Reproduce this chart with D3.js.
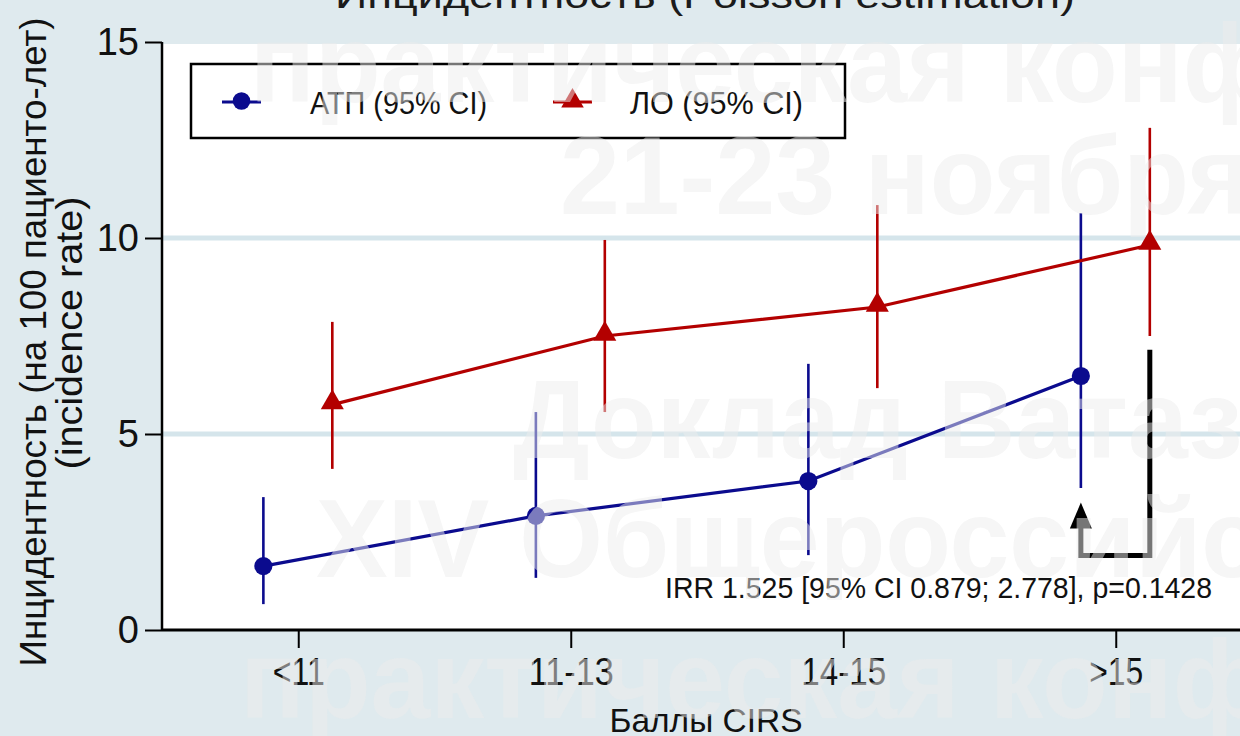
<!DOCTYPE html>
<html>
<head>
<meta charset="utf-8">
<script src="https://cdn.jsdelivr.net/npm/d3@7"></script>
<style>
  html, body { margin: 0; padding: 0; background: #dfeaee; }
  svg { display: block; font-family: "Liberation Sans", Arial, sans-serif; }
</style>
</head>
<body>
<svg id="chart" width="1240" height="736"></svg>
<script>
// CIRS score groups
const categories = ["<11", "11-13", "14-15", ">15"];

// Incidence per 100 patient-years, Poisson estimate with 95% CI
const atpRate  = [1.63, 2.91, 3.80, 6.48];
const atpLower = [0.66, 1.33, 1.91, 3.62];
const atpUpper = [3.39, 5.56, 6.79, 10.64];

const loRate  = [5.75, 7.50, 8.24, 9.82];
const loLower = [4.11, 5.56, 6.17, 7.50];
const loUpper = [7.86, 9.95, 10.84, 12.81];

const yTicks = [0, 5, 10, 15];

const seriesNames = ["АТП (95% CI)", "ЛО (95% CI)"];
const irrLabel = "IRR 1.525 [95% CI 0.879; 2.778], p=0.1428";

// Comparison bracket on the last group: top, bottom and arrow tip (rate units)
const bracketLevels = [7.15, 1.9, 3.25];

const watermarkLines = [
  "практическая конференция",
  "21-23 ноября",
  "Доклад Ватазина",
  "XIV Общероссийская",
  "практическая конференция"
];

const W = 1240, H = 736;
const plotLeft = 162, plotBottom = 630, plotTop = 42;
const blue = "#0b0b8e", red = "#b30000";

const svg = d3.select("#chart");

const x = d3.scalePoint().domain(categories).range([plotLeft, 1252]).padding(0.5);
const step = x.step();
const y = d3.scaleLinear().domain([0, 15]).range([plotBottom, plotTop]);

// plot area
svg.append("rect").attr("x", plotLeft).attr("y", y(15) + 2)
  .attr("width", W - plotLeft).attr("height", plotBottom - y(15) - 2).attr("fill", "#ffffff");

// grid bands
svg.append("g").selectAll("line").data([5, 10]).join("line")
  .attr("x1", plotLeft).attr("x2", W).attr("y1", d => y(d)).attr("y2", d => y(d))
  .attr("stroke", "#d5e5eb").attr("stroke-width", 5);

// title
svg.append("text").attr("x", 705).attr("y", 8).attr("text-anchor", "middle")
  .attr("font-size", 36).attr("fill", "#1b1b1b")
  .attr("textLength", 740).attr("lengthAdjust", "spacingAndGlyphs")
  .text("Инцидентность (Poisson estimation)");

// axes
const yAxis = svg.append("g").attr("transform", `translate(${plotLeft},0)`)
  .call(d3.axisLeft(y).tickValues(yTicks).tickSize(17).tickPadding(6).tickFormat(d3.format("d")));
yAxis.select(".domain").attr("stroke", "#000").attr("stroke-width", 2.5)
  .attr("d", `M0,${y(15)}V${plotBottom}`);
yAxis.selectAll(".tick line").attr("stroke", "#000").attr("stroke-width", 2);
yAxis.selectAll(".tick text").attr("font-size", 38).attr("fill", "#111")
  .attr("font-family", "Liberation Sans, Arial, sans-serif");

const xAxis = svg.append("g").attr("transform", `translate(0,${plotBottom})`)
  .call(d3.axisBottom(x).tickSize(18).tickPadding(10));
xAxis.select(".domain").attr("stroke", "#000").attr("stroke-width", 3)
  .attr("d", `M${plotLeft},0H${W}`);
xAxis.selectAll(".tick line").attr("stroke", "#000").attr("stroke-width", 2);
const xLabelWidths = { "<11": 52, "11-13": 85, "14-15": 85, ">15": 54 };
xAxis.selectAll(".tick text").attr("font-size", 38).attr("fill", "#111")
  .attr("font-family", "Liberation Sans, Arial, sans-serif")
  .attr("textLength", d => xLabelWidths[d]).attr("lengthAdjust", "spacingAndGlyphs");

svg.append("text").attr("x", 706).attr("y", 732).attr("text-anchor", "middle")
  .attr("font-size", 34).attr("fill", "#111")
  .attr("textLength", 193).attr("lengthAdjust", "spacingAndGlyphs")
  .text("Баллы CIRS");

// y axis title
const yTitle = svg.append("g").attr("transform", "translate(0,342) rotate(-90)");
yTitle.append("text").attr("x", 0).attr("y", 46).attr("text-anchor", "middle")
  .attr("font-size", 37).attr("fill", "#111")
  .attr("textLength", 649).attr("lengthAdjust", "spacingAndGlyphs")
  .text("Инцидентность (на 100 пациенто-лет)");
yTitle.append("text").attr("x", 9).attr("y", 82).attr("text-anchor", "middle")
  .attr("font-size", 37).attr("fill", "#111")
  .attr("textLength", 273).attr("lengthAdjust", "spacingAndGlyphs")
  .text("(incidence rate)");

// series
const series = [
  { rate: atpRate, lo: atpLower, hi: atpUpper, color: blue, dx: -0.128 * step, shape: "circle" },
  { rate: loRate,  lo: loLower,  hi: loUpper,  color: red,  dx:  0.125 * step, shape: "triangle" }
];

const marks = svg.append("g");
series.forEach(s => {
  const pts = categories.map((c, i) => ({ x: x(c) + s.dx, r: s.rate[i], lo: s.lo[i], hi: s.hi[i] }));
  marks.append("g").selectAll("line").data(pts).join("line")
    .attr("x1", d => d.x).attr("x2", d => d.x)
    .attr("y1", d => y(d.lo)).attr("y2", d => y(d.hi))
    .attr("stroke", s.color).attr("stroke-width", 2.6);
  marks.append("path").datum(pts)
    .attr("d", d3.line().x(d => d.x).y(d => y(d.r)))
    .attr("fill", "none").attr("stroke", s.color).attr("stroke-width", 3.2);
  const sym = d3.symbol().type(s.shape === "circle" ? d3.symbolCircle : d3.symbolTriangle)
    .size(s.shape === "circle" ? 260 : 230);
  marks.append("g").selectAll("path").data(pts).join("path")
    .attr("transform", d => `translate(${d.x},${y(d.r) + (s.shape === "circle" ? 0 : -2)})`)
    .attr("d", sym).attr("fill", s.color);
});

// comparison bracket with arrow
const bx1 = x(">15") + series[1].dx, bx0 = x(">15") + series[0].dx;
svg.append("path")
  .attr("d", `M${bx1},${y(bracketLevels[0])}V${y(bracketLevels[1])}H${bx0}V${y(bracketLevels[2]) + 22}`)
  .attr("fill", "none").attr("stroke", "#000").attr("stroke-width", 5);
svg.append("path")
  .attr("d", `M${bx0},${y(bracketLevels[2])}L${bx0 + 11},${y(bracketLevels[2]) + 26}L${bx0 - 11},${y(bracketLevels[2]) + 26}Z`)
  .attr("fill", "#000");

svg.append("text").attr("x", 665).attr("y", 598)
  .attr("font-size", 30).attr("fill", "#111")
  .attr("textLength", 547).attr("lengthAdjust", "spacingAndGlyphs")
  .text(irrLabel);

// legend
const lg = svg.append("g");
lg.append("rect").attr("x", 191).attr("y", 64).attr("width", 654).attr("height", 74)
  .attr("fill", "#fff").attr("stroke", "#000").attr("stroke-width", 2.5);
const legendItems = [
  { name: seriesNames[0], color: blue, x0: 222, tx: 310, tw: 177, sym: d3.symbol().type(d3.symbolCircle).size(240) },
  { name: seriesNames[1], color: red,  x0: 553, tx: 630, tw: 173, sym: d3.symbol().type(d3.symbolTriangle).size(220) }
];
legendItems.forEach(it => {
  lg.append("line").attr("x1", it.x0).attr("x2", it.x0 + 39).attr("y1", 102).attr("y2", 102)
    .attr("stroke", it.color).attr("stroke-width", 3);
  lg.append("path").attr("transform", `translate(${it.x0 + 19.5},101)`).attr("d", it.sym).attr("fill", it.color);
  lg.append("text").attr("x", it.tx).attr("y", 114).attr("font-size", 32).attr("fill", "#111")
    .attr("textLength", it.tw).attr("lengthAdjust", "spacingAndGlyphs").text(it.name);
});

// faint conference watermark over the slide
const wm = svg.append("g").attr("font-weight", "bold").attr("font-size", 112)
  .attr("fill", "#ececec").attr("opacity", 0.5);
const wmPos = [[250, 102], [560, 214], [513, 458], [316, 577], [240, 718]];
watermarkLines.forEach((t, i) => {
  wm.append("text").attr("transform", `translate(${wmPos[i][0]},${wmPos[i][1]}) scale(0.96,1)`).text(t);
});
</script>
</body>
</html>
